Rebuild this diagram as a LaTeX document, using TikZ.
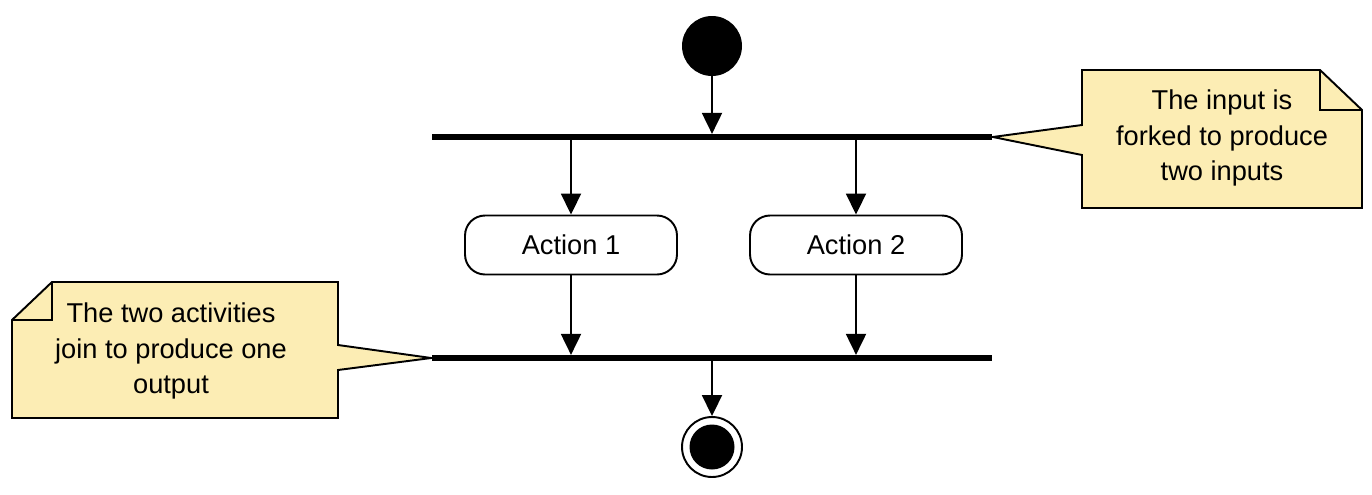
\documentclass[tikz,border=0pt]{standalone}
\usepackage{fontspec}
\setmainfont{Liberation Sans}
\usetikzlibrary{arrows.meta,positioning,calc}
\definecolor{notefill}{HTML}{FCEDB4}

\begin{document}
\begin{tikzpicture}[x=0.02cm, y=-0.02cm,
        every node/.style={font=\fontsize{15.5}{20}\selectfont},
        flow/.style={line width=1.1pt, -{Triangle[length=0.42cm,width=0.4cm]}},
        bar/.style={fill=black, minimum width=11.22cm, minimum height=0.11cm, inner sep=0pt},
        action/.style={draw, line width=1.1pt, rounded corners=0.4cm, minimum width=4.24cm, minimum height=1.18cm},
        note/.style={draw, line width=1.1pt, fill=notefill, line join=miter}]
        \useasboundingbox (0,0) rectangle (1372,494);
        \node[circle, fill=black, minimum size=1.2cm, inner sep=0pt] (start) at (712,46) {};
        \node[bar] (fork) at (712,137) {};
        \node[action] (act1) at (571,245) {Action 1};
        \node[action] (act2) at (856,245) {Action 2};
        \node[bar] (join) at (712,358) {};
        \node[circle, draw, line width=1.1pt, minimum size=1.2cm, inner sep=0pt] (end) at (712,447) {};
        \fill (end.center) circle[radius=0.45cm];
        \draw[flow] (start) -- (fork.north);
        \draw[flow] (fork.south -| act1) -- (act1);
        \draw[flow] (fork.south -| act2) -- (act2);
        \draw[flow] (act1) -- (act1 |- join.north);
        \draw[flow] (act2) -- (act2 |- join.north);
        \draw[flow] (join.south) -- (end);
        \draw[note] (1082,70) -- (1320,70) -- (1362,110) -- (1362,208) -- (1082,208) -- (1082,155) -- (fork.east) -- (1082,125) -- cycle;
        \draw[line width=1.1pt] (1320,70) -- (1320,110) -- (1362,110);
        \node[align=center] (forknote) at (1222,138) {The input is\\forked to produce\\two inputs};
        \draw[note] (52,282) -- (338,282) -- (338,345) -- (join.west) -- (338,370) -- (338,418) -- (12,418) -- (12,320) -- cycle;
        \draw[line width=1.1pt] (52,282) -- (52,320) -- (12,320);
        \node[align=center] (joinnote) at (171,351) {The two activities\\join to produce one\\output};
    \end{tikzpicture}
\end{document}
